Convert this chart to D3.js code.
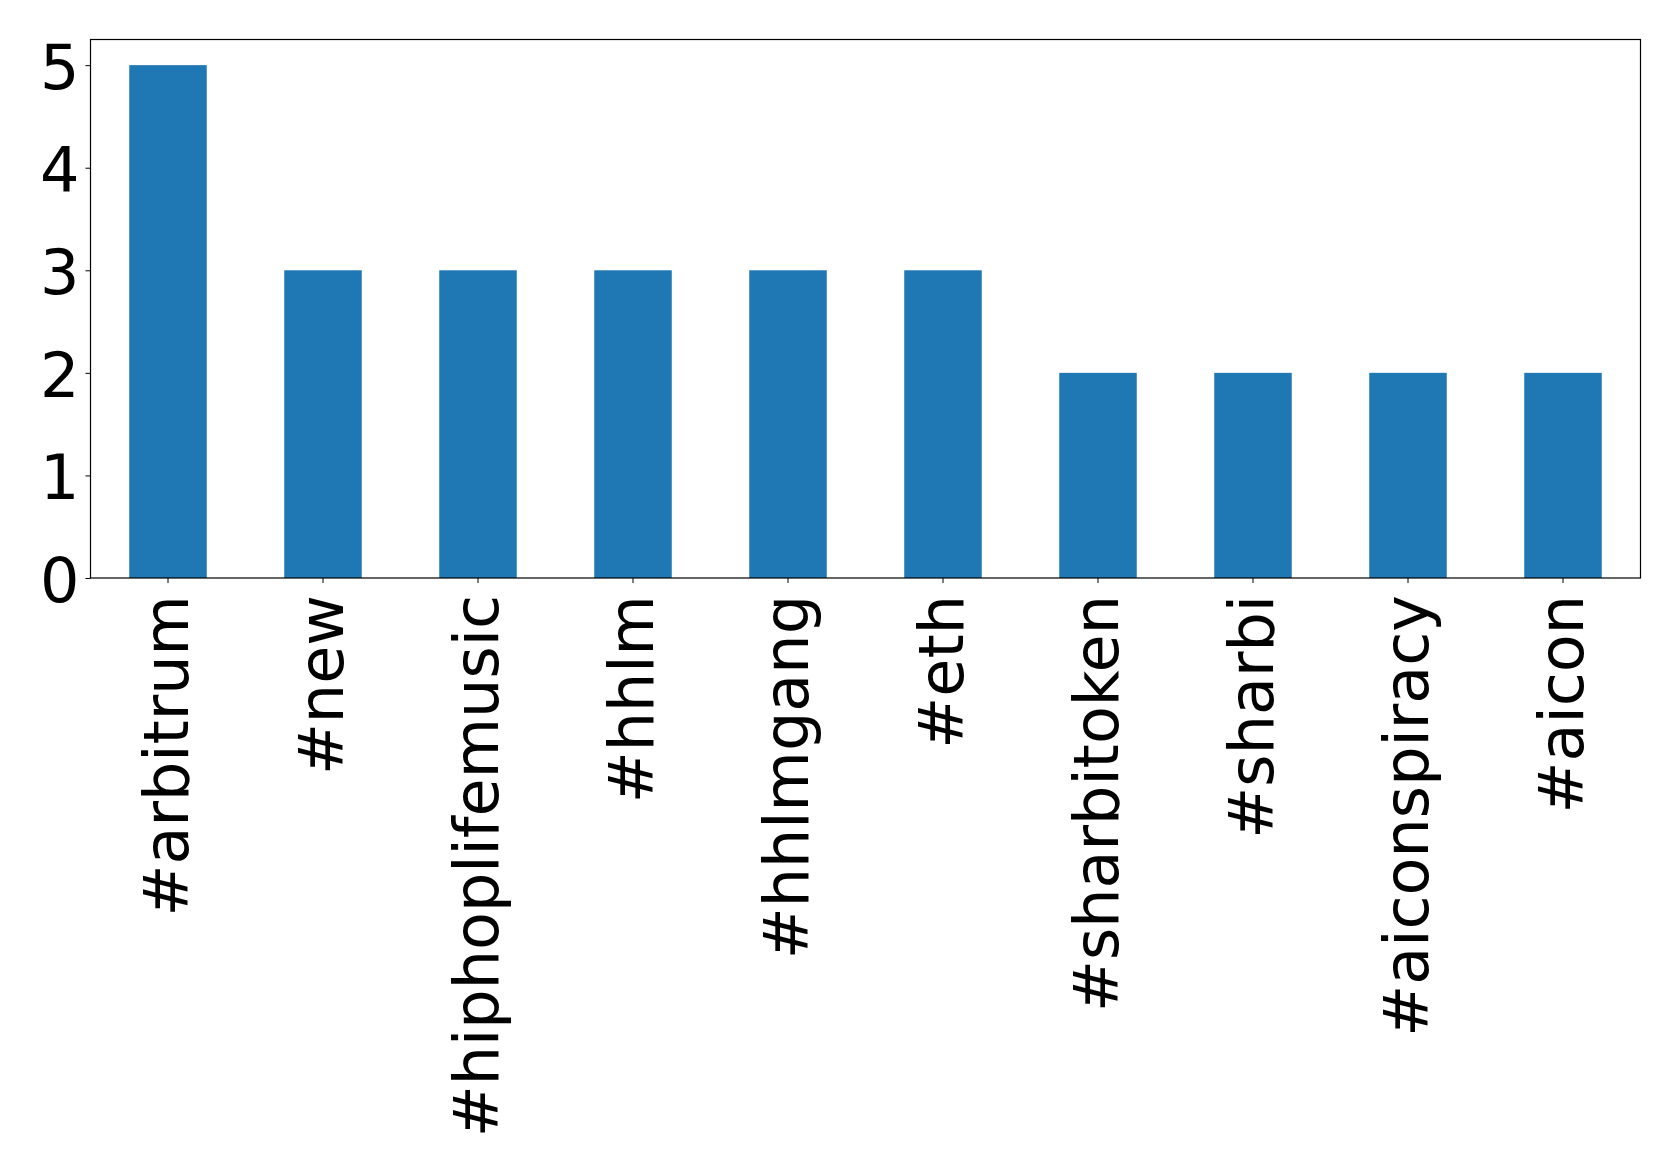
<!DOCTYPE html>
<html>
<head>
<meta charset="utf-8">
<script src="https://cdn.jsdelivr.net/npm/d3@7"></script>
<style>
  html, body { margin: 0; padding: 0; background: #fff; }
  svg { display: block; }
  text { font-family: "DejaVu Sans", sans-serif; fill: #000; }
</style>
</head>
<body>
<svg id="chart" width="1679" height="1174"></svg>
<script>
const categories = ["#arbitrum", "#new", "#hiphoplifemusic", "#hhlm", "#hhlmgang", "#eth", "#sharbitoken", "#sharbi", "#aiconspiracy", "#aicon"];
const values = [5, 3, 3, 3, 3, 3, 2, 2, 2, 2];
const yTicks = [0, 1, 2, 3, 4, 5];

const m = { left: 90.5, right: 1640.5, top: 39.5, bottom: 578 };
const svg = d3.select("#chart");

const x = d3.scaleBand().domain(categories).range([m.left, m.right]).paddingInner(0.5).paddingOuter(0.25);
const y = d3.scaleLinear().domain([0, 5.25]).range([m.bottom, m.top]);

svg.append("g").selectAll("rect").data(categories).enter().append("rect")
  .attr("x", d => x(d))
  .attr("width", x.bandwidth())
  .attr("y", (d, i) => y(values[i]))
  .attr("height", (d, i) => y(0) - y(values[i]))
  .attr("fill", "#1f77b4");

// frame
svg.append("rect")
  .attr("x", m.left).attr("y", m.top)
  .attr("width", m.right - m.left).attr("height", m.bottom - m.top)
  .attr("fill", "none").attr("stroke", "#000").attr("stroke-width", 1.2);

// y axis
const yAxis = d3.axisLeft(y).tickValues(yTicks).tickFormat(d3.format("d")).tickSize(5).tickPadding(6);
const gy = svg.append("g").attr("transform", `translate(${m.left},0)`).call(yAxis);
gy.select(".domain").remove();
gy.selectAll("line").attr("stroke", "#000").attr("stroke-width", 1);
gy.selectAll("text").style("font-size", "62px").attr("dy", "0.38em").style("font-family", "'DejaVu Sans', sans-serif");

// x axis
const xAxis = d3.axisBottom(x).tickSize(5).tickPadding(10);
const gx = svg.append("g").attr("transform", `translate(0,${m.bottom})`).call(xAxis);
gx.select(".domain").remove();
gx.selectAll("line").attr("stroke", "#000").attr("stroke-width", 1);
gx.selectAll("text")
  .style("font-size", "62px")
  .style("font-family", "'DejaVu Sans', sans-serif")
  .attr("text-anchor", "end")
  .attr("transform", "rotate(-90)")
  .attr("x", -17)
  .attr("y", 0)
  .attr("dy", "0.33em");
</script>
</body>
</html>
